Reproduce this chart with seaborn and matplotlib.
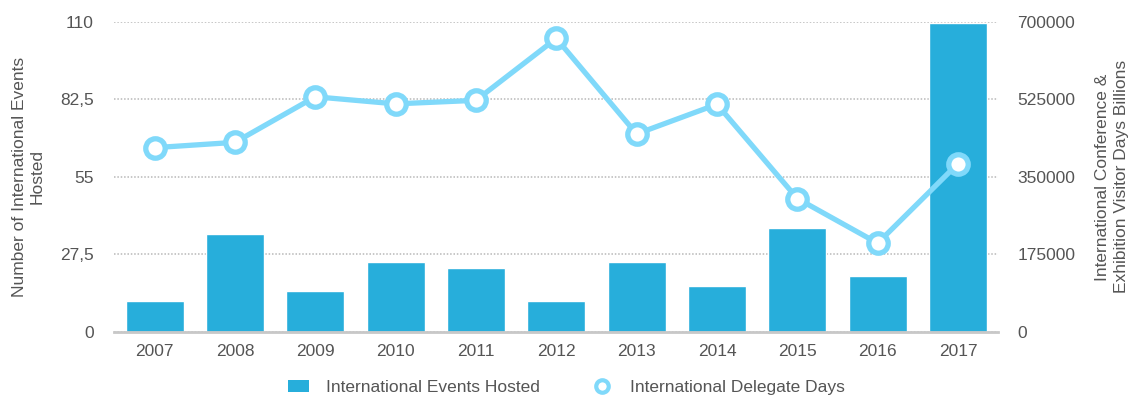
import matplotlib
matplotlib.use('Agg')
import matplotlib.pyplot as plt
import seaborn as sns
import pandas as pd
from matplotlib.lines import Line2D
from matplotlib.patches import Patch
from matplotlib.ticker import FuncFormatter

# data
years = ['2007', '2008', '2009', '2010', '2011', '2012', '2013', '2014', '2015', '2016', '2017']
events_hosted = [11, 34.8, 14.6, 24.8, 22.6, 11, 24.8, 16.1, 36.9, 19.6, 109.5]
delegate_days = [416000, 428000, 531000, 515000, 523000, 663000, 447000, 514000, 301000, 200000, 380000]
left_ticks = [0, 27.5, 55, 82.5, 110]
right_ticks = [0, 175000, 350000, 525000, 700000]

df = pd.DataFrame({'year': years, 'events': events_hosted, 'days': delegate_days})

sns.set_theme(style="white")
plt.rcParams['font.family'] = ['Liberation Sans', 'DejaVu Sans']

bar_color = '#27aedb'
line_color = '#80d9fa'
text_color = '#555555'

fig, ax = plt.subplots(figsize=(11.33, 4.01), dpi=100)
fig.subplots_adjust(left=0.101, right=0.881, top=0.945, bottom=0.173)

sns.barplot(data=df, x='year', y='events', color=bar_color, saturation=1,
            width=0.72, ax=ax, zorder=2)
ax.set_xlim(-0.5, len(years) - 0.5)
ax.set_ylim(0, 110)
ax.set_yticks(left_ticks)
ax.yaxis.set_major_formatter(FuncFormatter(lambda v, p: ('%g' % v).replace('.', ',')))
ax.grid(axis='y', linestyle=(0, (1, 1.2)), color='#b8b8b8', linewidth=1.1, zorder=0)
ax.set_axisbelow(True)
for s in ['top', 'right', 'left']:
    ax.spines[s].set_visible(False)
ax.spines['bottom'].set_color('#c8c8c8')
ax.spines['bottom'].set_linewidth(2)
ax.tick_params(axis='both', length=0, labelsize=12.5, labelcolor=text_color, pad=9)
ax.tick_params(axis='y', pad=15)
ax.set_xlabel('')
ax.set_ylabel('Number of International Events\nHosted', fontsize=12.5, color=text_color,
              labelpad=11, linespacing=1.2)

ax2 = ax.twinx()
sns.lineplot(x=list(range(len(years))), y=delegate_days, ax=ax2, color=line_color,
             linewidth=3.8, marker='o', markersize=14, markerfacecolor='white',
             markeredgecolor=line_color, markeredgewidth=3.8, zorder=3)
ax2.set_ylim(0, 700000)
ax2.set_yticks(right_ticks)
for s in ['top', 'right', 'left', 'bottom']:
    ax2.spines[s].set_visible(False)
ax2.tick_params(axis='y', length=0, labelsize=12.5, labelcolor=text_color, pad=14)
ax2.set_ylabel('International Conference &\nExhibition Visitor Days Billions', fontsize=12.5,
               color=text_color, labelpad=14, linespacing=1.3)

handles = [
    Patch(facecolor=bar_color, edgecolor='none'),
    Line2D([], [], linestyle='none', marker='o', markersize=9, markerfacecolor='white',
           markeredgecolor=line_color, markeredgewidth=3),
]
labels = ['International Events Hosted', 'International Delegate Days']
leg = fig.legend(handles, labels, loc='lower center', bbox_to_anchor=(0.5, -0.025), ncol=2,
                 frameon=False, fontsize=12.5, columnspacing=3, handlelength=1.2,
                 handletextpad=1.0)
for t in leg.get_texts():
    t.set_color(text_color)

fig.savefig('out.png', dpi=100)
